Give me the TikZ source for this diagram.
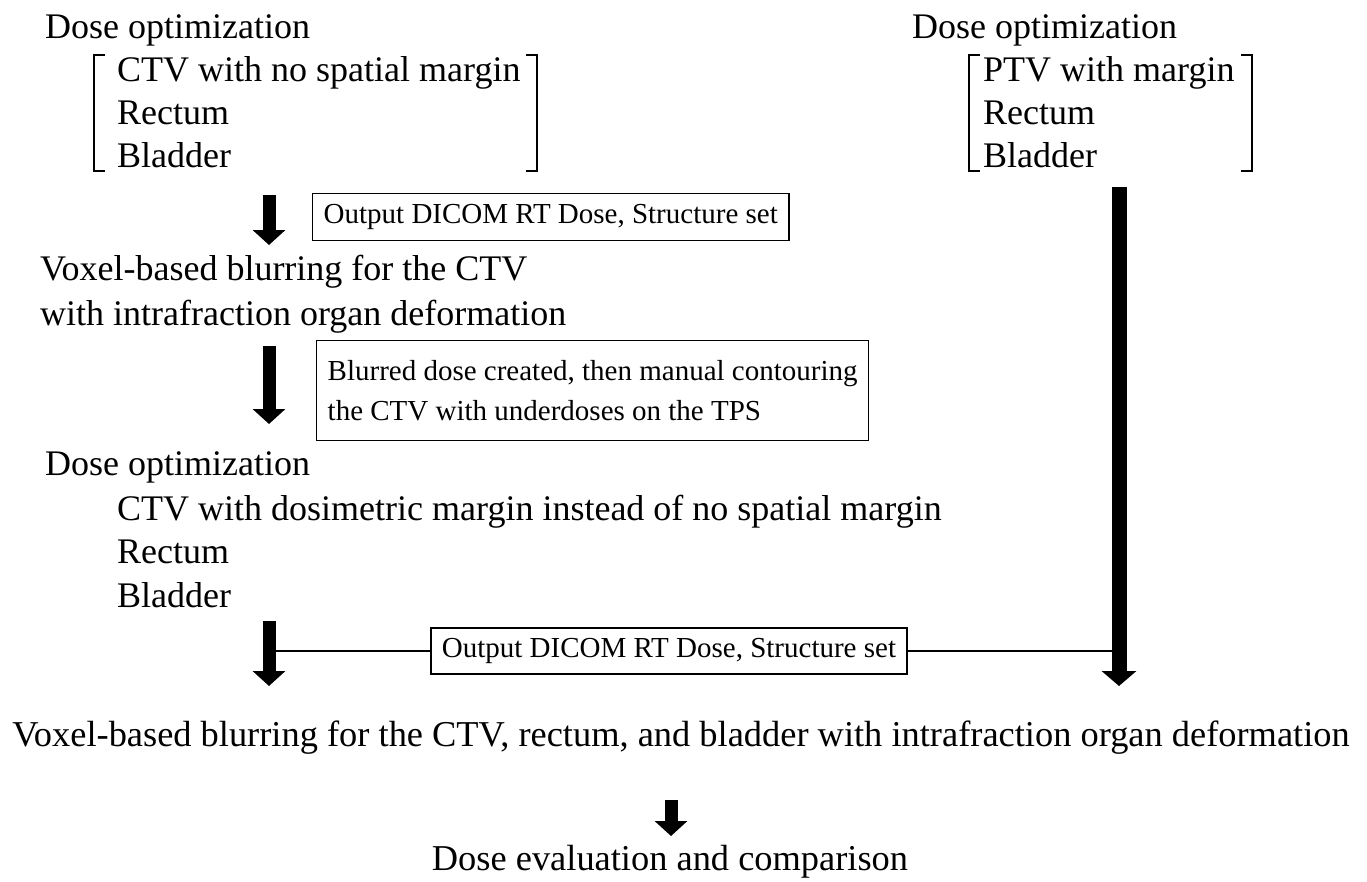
\documentclass[tikz,border=0pt]{standalone}
\usepackage{fontspec}
\setmainfont{Liberation Serif}
\usetikzlibrary{arrows.meta}
\begin{document}
\begin{tikzpicture}[x=1pt,y=-1pt,
  txt/.style={font=\fontsize{36}{42}\selectfont, inner sep=0pt, anchor=base west},
  ctxt/.style={font=\fontsize{36.4}{42}\selectfont, inner sep=0pt, anchor=base},
  boxtxt/.style={draw, line width=1.4pt, font=\fontsize{29}{40}\selectfont, inner xsep=11pt, inner ysep=0pt, align=left},
  blk/.style={line width=13pt, -{Triangle[length=15pt,width=32pt]}},
  blkr/.style={line width=15pt, -{Triangle[length=15pt,width=34pt]}},
  brk/.style={line width=2.8pt},
  thinline/.style={line width=1.4pt}]
\useasboundingbox (0,0) rectangle (1367,881);
\fill[white] (0,0) rectangle (1367,881);

% left top block
\node[txt] (d1) at (45,38) {Dose optimization};
\node[txt] (c1) at (117,81) {CTV with no spatial margin};
\node[txt] (r1) at (117,124) {Rectum};
\node[txt] (b1) at (117,167) {Bladder};
\draw[brk] (105,55) -- (94,55) -- (94,171) -- (105,171);
\draw[brk] (526,55) -- (537,55) -- (537,171) -- (526,171);

% right top block
\node[txt] (d2) at (912,38) {Dose optimization};
\node[txt] (c2) at (983,81) {PTV with margin};
\node[txt] (r2) at (983,124) {Rectum};
\node[txt] (b2) at (983,167) {Bladder};
\draw[brk] (980,55) -- (969,55) -- (969,171) -- (980,171);
\draw[brk] (1241,55) -- (1252,55) -- (1252,171) -- (1241,171);

% arrow 1 and box 1
\coordinate (a1s) at (269,195);
\coordinate (a1e) at (269,245);
\draw[blk] (a1s) -- (a1e);
\node[boxtxt, minimum height=47pt, anchor=west] (box1) at (312,217) {Output DICOM RT Dose, Structure set};

% voxel blurring
\node[txt] (v1) at (40,280) {Voxel-based blurring for the CTV};
\node[txt] (v2) at (40,325) {with intrafraction organ deformation};

% arrow 2 and box 2
\coordinate (a2s) at (269,346);
\coordinate (a2e) at (269,424);
\draw[blk] (a2s) -- (a2e);
\node[boxtxt, minimum height=100pt, anchor=north west] (box2) at (316,340) {Blurred dose created, then manual contouring\\the CTV with underdoses on the TPS};

% dose optimization 3
\node[txt] (d3) at (45,475) {Dose optimization};
\node[txt] (c3) at (117,520) {CTV with dosimetric margin instead of no spatial margin};
\node[txt] (r3) at (117,563) {Rectum};
\node[txt] (b3) at (117,607) {Bladder};

% arrow 3, right arrow, box 3
\coordinate (a3s) at (269,621);
\coordinate (a3e) at (269,686);
\draw[blk] (a3s) -- (a3e);
\coordinate (ars) at (1119,187);
\coordinate (are) at (1119,686);
\draw[blkr] (ars) -- (are);
\node[boxtxt, minimum height=46pt, anchor=center] (box3) at (669,651) {Output DICOM RT Dose, Structure set};
\coordinate (l1) at (276,651);
\coordinate (l2) at (1112,651);
\draw[thinline] (l1) -- (box3.west);
\draw[thinline] (box3.east) -- (l2);

% final
\node[ctxt] (v3) at (681,746) {Voxel-based blurring for the CTV, rectum, and bladder with intrafraction organ deformation};
\coordinate (a4s) at (671,800);
\coordinate (a4e) at (671,836);
\draw[blk] (a4s) -- (a4e);
\node[ctxt] (ev) at (670,870) {Dose evaluation and comparison};
\end{tikzpicture}
\end{document}
